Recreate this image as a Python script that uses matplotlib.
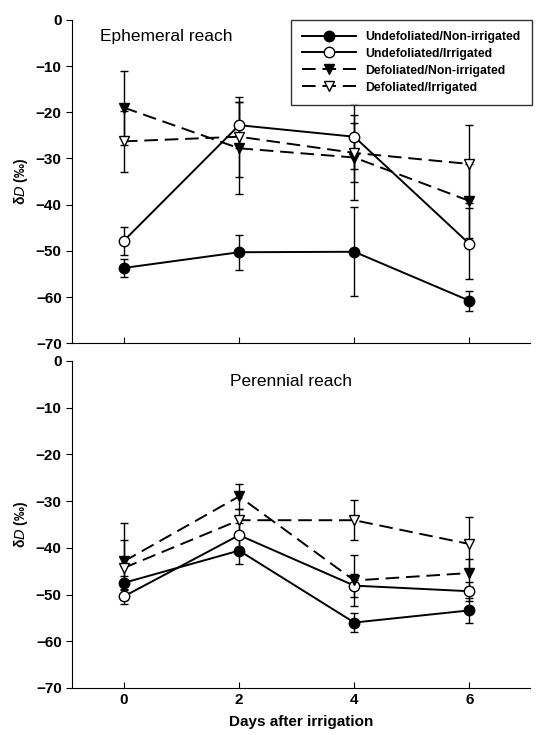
import matplotlib
matplotlib.use("Agg")
import matplotlib.pyplot as plt
from matplotlib.lines import Line2D

plt.rcParams['font.family'] = ['Liberation Sans', 'DejaVu Sans']

days = [0, 2, 4, 6]
series_names = ["Undefoliated/Non-irrigated", "Undefoliated/Irrigated",
                "Defoliated/Non-irrigated", "Defoliated/Irrigated"]

# Ephemeral reach
eph_undef_nonirr = [-53.7, -50.3, -50.2, -60.8]
eph_undef_nonirr_err = [2.0, 3.8, 9.6, 2.2]
eph_undef_irr = [-47.8, -22.8, -25.3, -48.5]
eph_undef_irr_err = [3.0, 5.0, 7.0, 7.7]
eph_def_nonirr = [-19.0, -27.8, -29.8, -39.2]
eph_def_nonirr_err = [8.0, 10.0, 9.2, 8.0]
eph_def_irr = [-26.3, -25.3, -28.8, -31.2]
eph_def_irr_err = [6.6, 8.7, 6.4, 8.4]

# Perennial reach
per_undef_nonirr = [-47.5, -40.6, -56.0, -53.4]
per_undef_nonirr_err = [1.5, 2.8, 2.1, 2.6]
per_undef_irr = [-50.4, -37.3, -48.1, -49.3]
per_undef_irr_err = [1.6, 2.5, 2.5, 2.0]
per_def_nonirr = [-42.9, -29.0, -47.0, -45.4]
per_def_nonirr_err = [8.3, 2.7, 5.4, 3.0]
per_def_irr = [-44.3, -34.1, -34.1, -39.2]
per_def_irr_err = [5.9, 2.5, 4.3, 5.7]

yticks = [0, -10, -20, -30, -40, -50, -60, -70]

styles = [
    dict(marker='o', mfc='black', ls='-'),
    dict(marker='o', mfc='white', ls='-'),
    dict(marker='v', mfc='black', ls=(0, (7, 3.5))),
    dict(marker='v', mfc='white', ls=(0, (7, 3.5))),
]

fig = plt.figure(figsize=(5.38, 7.35), dpi=100)
ax1 = fig.add_axes([0.134, 0.533, 0.851, 0.440])
ax2 = fig.add_axes([0.134, 0.064, 0.851, 0.445])

def draw(ax, data):
    for (vals, errs), st, name in zip(data, styles, series_names):
        ax.errorbar(days, vals, yerr=errs, color='black', lw=1.4,
                    marker=st['marker'], mfc=st['mfc'], mec='black',
                    ms=7.5, ls=st['ls'], capsize=3, elinewidth=1.0,
                    capthick=1.0, label=name, zorder=3)
    ax.set_xlim(-0.9, 7.05)
    ax.set_ylim(-70, 0)
    ax.set_yticks(yticks)
    ax.set_yticklabels(['0' if t == 0 else '\u2212%d' % -t for t in yticks])
    ax.set_xticks(days)
    ax.spines['top'].set_visible(False)
    ax.spines['right'].set_visible(False)
    ax.tick_params(axis='x', direction='in', length=4, labelsize=11)
    ax.tick_params(axis='y', direction='out', length=4, labelsize=11)
    for lab in ax.get_xticklabels() + ax.get_yticklabels():
        lab.set_fontweight('bold')
    ax.set_ylabel(r'δ$\mathit{D}$ (‰)', fontsize=10, fontweight='bold', labelpad=4)

draw(ax1, [(eph_undef_nonirr, eph_undef_nonirr_err),
           (eph_undef_irr, eph_undef_irr_err),
           (eph_def_nonirr, eph_def_nonirr_err),
           (eph_def_irr, eph_def_irr_err)])
ax1.tick_params(axis='x', labelbottom=False)
ax1.text(-0.42, -3.5, 'Ephemeral reach', fontsize=12.5, va='center', ha='left')

handles = [Line2D([], [], color='black', lw=1.4, marker=st['marker'],
                  mfc=st['mfc'], mec='black', ms=7.5, ls=st['ls'])
           for st in styles]
leg = ax1.legend(handles, series_names, loc='upper right',
                 bbox_to_anchor=(1.004, 1.0),
                 fontsize=8.8, frameon=True, fancybox=False, edgecolor='black',
                 handlelength=4.4, borderpad=0.9, labelspacing=0.4,
                 handletextpad=0.8, borderaxespad=0.0)
leg.get_frame().set_linewidth(1.0)
for t in leg.get_texts():
    t.set_fontweight('bold')

draw(ax2, [(per_undef_nonirr, per_undef_nonirr_err),
           (per_undef_irr, per_undef_irr_err),
           (per_def_nonirr, per_def_nonirr_err),
           (per_def_irr, per_def_irr_err)])
ax2.text(2.9, -4.5, 'Perennial reach', fontsize=12.5, va='center', ha='center')
ax2.set_xlabel('Days after irrigation', fontsize=11, fontweight='bold', labelpad=6)

fig.savefig('out.png', dpi=100)
